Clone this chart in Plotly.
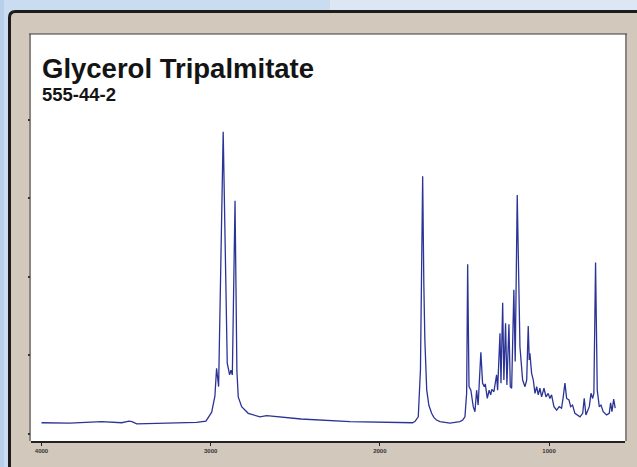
import plotly.graph_objects as go

# Wavenumber (cm-1) and absorbance-like values
wavenumber = [4000, 3832, 3644, 3526, 3483, 3465, 3437, 3300, 3083, 3028,
              2994, 2975, 2965, 2953, 2926, 2902, 2896, 2888, 2880, 2872,
              2856, 2845, 2837, 2817, 2778, 2709, 2669, 2595, 2466, 2177, 1807,
              1793, 1773, 1760, 1747, 1740, 1734, 1723, 1710, 1694, 1680, 1665, 1645, 1586, 1527,
              1510, 1497, 1487, 1481, 1473, 1462, 1448, 1438, 1428, 1419, 1403,
              1393, 1383, 1377, 1365, 1354, 1345, 1338, 1326, 1318, 1310,
              1304, 1290, 1284, 1274, 1267, 1257, 1249, 1237, 1229, 1221,
              1208, 1200, 1188, 1172, 1156, 1142, 1132, 1123, 1117, 1113,
              1103, 1093, 1083, 1073, 1064, 1054, 1044, 1030, 1018, 1005,
              995, 985, 971, 955, 940, 926, 916, 906, 896, 882,
              872, 861, 847, 831, 817, 801, 792, 782, 772, 762,
              752, 742, 735, 725, 715, 703, 693, 680, 660, 644,
              636, 628, 618, 609]
absorbance = [0.028, 0.027, 0.031, 0.028, 0.032, 0.031, 0.025, 0.026, 0.029, 0.032,
              0.055, 0.096, 0.167, 0.120, 0.770, 0.180, 0.165, 0.150, 0.162, 0.150,
              0.594, 0.160, 0.094, 0.069, 0.052, 0.043, 0.046, 0.043, 0.0375, 0.031, 0.028,
              0.031, 0.043, 0.163, 0.657, 0.380, 0.239, 0.111, 0.072, 0.052, 0.041, 0.035, 0.031, 0.027, 0.031,
              0.035, 0.043, 0.104, 0.432, 0.120, 0.111, 0.069, 0.056, 0.111, 0.073, 0.208,
              0.129, 0.120, 0.127, 0.090, 0.111, 0.099, 0.113, 0.107, 0.124, 0.150,
              0.111, 0.256, 0.129, 0.334, 0.137, 0.282, 0.124, 0.279, 0.120, 0.116,
              0.367, 0.184, 0.609, 0.222, 0.137, 0.120, 0.137, 0.275, 0.188, 0.205,
              0.154, 0.137, 0.103, 0.120, 0.099, 0.116, 0.094, 0.116, 0.094, 0.103,
              0.090, 0.099, 0.069, 0.060, 0.069, 0.065, 0.094, 0.129, 0.090, 0.086,
              0.069, 0.073, 0.052, 0.048, 0.043, 0.052, 0.090, 0.048, 0.060, 0.069,
              0.103, 0.090, 0.103, 0.437, 0.111, 0.069, 0.073, 0.056, 0.048, 0.052,
              0.079, 0.056, 0.088, 0.065]

x_tick_values = [4000, 3000, 2000, 1000]
x_tick_labels = ["4000", "3000", "2000", "1000"]
y_tick_values = [0, 0.2, 0.4, 0.6, 0.8]

title_text = "Glycerol Tripalmitate"
subtitle_text = "555-44-2"

fig = go.Figure()
fig.add_trace(go.Scatter(x=wavenumber, y=absorbance, mode="lines",
                         line=dict(color="#2b3496", width=1.3),
                         hoverinfo="skip", showlegend=False))

W, H = 637, 467
L, R, T, B = 31, 12, 34, 26
pw, ph = W - L - R, H - T - B

def px(x):
    return (x - L) / pw

def py(y):
    return (H - B - y) / ph

x0, x2 = px(9.5), px(650)
y1, y0 = py(11.5), py(480)
rx, ry = 6 / pw, 6 / ph
panel_path = (f"M {x0},{y0} L {x0},{y1 - ry} Q {x0},{y1} {x0 + rx},{y1} "
              f"L {x2},{y1} L {x2},{y0} Z")

shapes = [
    # soft background variation (light blue page)
    dict(type="rect", xref="paper", yref="paper", x0=px(-5), x1=px(4), y0=py(480), y1=py(-5),
         fillcolor="#b9d0ea", line=dict(width=0), layer="below"),
    dict(type="rect", xref="paper", yref="paper", x0=px(330), x1=px(650), y0=py(11), y1=py(-5),
         fillcolor="#dde7f4", line=dict(width=0), layer="below"),
    dict(type="path", xref="paper", yref="paper", path=panel_path,
         fillcolor="#d3c8bc", line=dict(color="#1c1c1c", width=3), layer="below"),
    dict(type="rect", xref="paper", yref="paper", x0=0, x1=1, y0=0, y1=1,
         fillcolor="white", line=dict(width=0), layer="below"),
    dict(type="line", xref="paper", yref="paper", x0=px(30), x1=px(30), y0=0, y1=1,
         line=dict(color="#8a8580", width=2), layer="below"),
    dict(type="line", xref="paper", yref="paper", x0=px(626), x1=px(626), y0=0, y1=1,
         line=dict(color="#8a8580", width=2), layer="below"),
    dict(type="line", xref="paper", yref="paper", x0=px(29), x1=px(627), y0=1, y1=1,
         line=dict(color="#3a3a3a", width=1), layer="below"),
]

fig.update_layout(
    width=W, height=H,
    margin=dict(l=L, r=R, t=T, b=B, pad=0),
    paper_bgcolor="#cadcf0",
    plot_bgcolor="rgba(0,0,0,0)",
    shapes=shapes,
    xaxis=dict(range=[4062, 551], tickvals=x_tick_values, ticktext=x_tick_labels,
               ticks="outside", ticklen=3, tickwidth=1.2, tickcolor="#222",
               showline=True, linecolor="#222", linewidth=1.5,
               showgrid=False, zeroline=False,
               tickfont=dict(family="Liberation Sans", size=6, color="#333", weight="bold")),
    yaxis=dict(range=[-0.0186, 1.0196], tickvals=y_tick_values, showticklabels=False,
               ticks="outside", ticklen=2, tickwidth=1.5, tickcolor="#333",
               showline=False, showgrid=False, zeroline=False),
    annotations=[
        dict(text=f"<b>{title_text}</b>", xref="paper", yref="paper",
             x=px(40), y=py(68), xanchor="left", yanchor="middle", showarrow=False,
             font=dict(family="Liberation Sans", size=27.5, color="#141414")),
        dict(text=f"<b>{subtitle_text}</b>", xref="paper", yref="paper",
             x=px(40), y=py(94), xanchor="left", yanchor="middle", showarrow=False,
             font=dict(family="Liberation Sans", size=18.5, color="#141414")),
    ],
)

fig.write_html("out.html", config={"displayModeBar": False},
               post_script="document.body.style.margin='0';document.body.style.overflow='hidden';")
